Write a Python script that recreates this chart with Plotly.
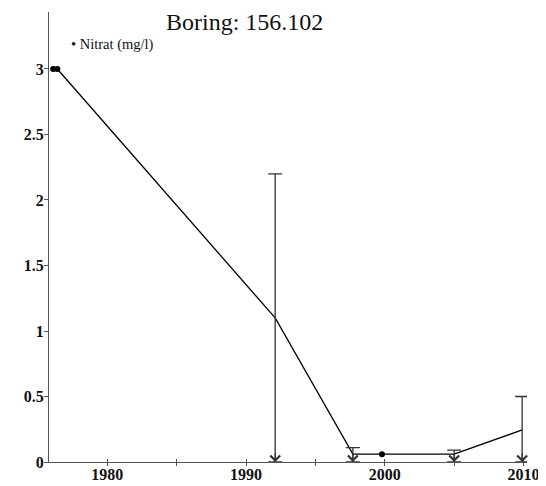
import plotly.graph_objects as go

# data
years = [1976.1, 1976.4, 1992.1, 1997.7, 1999.8, 2005.0, 2009.9]
values = [3.0, 3.0, 1.1, 0.06, 0.06, 0.06, 0.245]
measured = [True, True, False, False, True, False, False]
upper = [None, None, 2.2, 0.11, None, 0.09, 0.5]   # upper limit of range
below_limit = [False, False, True, True, False, True, True]
x_tickvals = [1980, 1985, 1990, 1995, 2000, 2005, 2010]
x_ticktext = ["1980", "", "1990", "", "2000", "", "2010"]
y_tickvals = [0, 0.5, 1, 1.5, 2, 2.5, 3]
y_ticktext = ["0", "0.5", "1", "1.5", "2", "2.5", "3"]
title_text = "Boring: 156.102"
series_name = "Nitrat (mg/l)"

XR = [1975.8, 2010.25]
YR = [0, 3.435]

fig = go.Figure()

fig.add_trace(go.Scatter(
    x=years, y=values, mode="lines",
    line=dict(color="black", width=1.3),
    showlegend=False, hoverinfo="skip"))

# error bars (range up to upper limit, down to 0)
ex = [x for x, u in zip(years, upper) if u is not None]
ev = [v for v, u in zip(values, upper) if u is not None]
eu = [u - v for v, u in zip(values, upper) if u is not None]
fig.add_trace(go.Scatter(
    x=ex, y=ev, mode="markers",
    marker=dict(size=1, color="rgba(0,0,0,0)"),
    error_y=dict(type="data", symmetric=False, array=eu, arrayminus=ev,
                 color="#333333", thickness=1.3, width=7),
    showlegend=False, hoverinfo="skip"))

# measured points
mx = [x for x, m in zip(years, measured) if m]
my = [v for v, m in zip(values, measured) if m]
fig.add_trace(go.Scatter(
    x=mx, y=my, mode="markers", name=series_name,
    marker=dict(size=6, color="black"), showlegend=False))

# invisible trace to carry the overlay x axis (inside tick marks)
fig.add_trace(go.Scatter(x=[XR[0]], y=[0], xaxis="x2", mode="markers",
                         marker=dict(size=1, color="rgba(0,0,0,0)"),
                         showlegend=False, hoverinfo="skip"))

annotations = []
for x, b in zip(years, below_limit):
    if b:
        annotations.append(dict(
            x=x, y=0, xref="x", yref="y", text="", showarrow=True,
            ax=0, ay=-10, arrowhead=4, arrowsize=1.6, arrowwidth=1.2,
            arrowcolor="#333333"))

annotations.append(dict(
    text=title_text, xref="paper", yref="paper", x=0.408, y=1.0089,
    xanchor="center", yanchor="top", showarrow=False, borderpad=0,
    font=dict(family="Liberation Serif", size=24, color="#111111")))
annotations.append(dict(
    text="\u2022 " + series_name, xref="paper", yref="paper", x=0.0418, y=0.9267,
    xanchor="left", yanchor="middle", showarrow=False,
    font=dict(family="Liberation Serif", size=14.5, color="#111111")))

tickfont = dict(family="Liberation Serif", size=16, color="#111111", weight="bold")

fig.update_layout(
    width=538, height=478,
    margin=dict(l=41, r=19, t=4, b=24),
    paper_bgcolor="white", plot_bgcolor="white",
    showlegend=False,
    annotations=annotations,
    xaxis=dict(range=XR, tickvals=x_tickvals, ticktext=x_ticktext,
               automargin=False,
               showgrid=False, zeroline=False, showline=True,
               linecolor="#555555", linewidth=1.3,
               ticks="outside", ticklen=3, tickcolor="#555555",
               ticklabelstandoff=-5,
               tickfont=tickfont),
    xaxis2=dict(range=XR, tickvals=x_tickvals, overlaying="x", anchor="y",
                side="bottom", showticklabels=False, showgrid=False,
                automargin=False,
                zeroline=False, showline=False,
                ticks="inside", ticklen=3, tickcolor="#555555"),
    yaxis=dict(range=YR, tickvals=y_tickvals, ticktext=y_ticktext,
               automargin=False,
               showgrid=False, zeroline=False, showline=True,
               linecolor="#555555", linewidth=1.3,
               ticks="outside", ticklen=4, tickcolor="#555555",
               ticklabelstandoff=-3,
               tickfont=tickfont),
)

fig.write_html("out.html")
